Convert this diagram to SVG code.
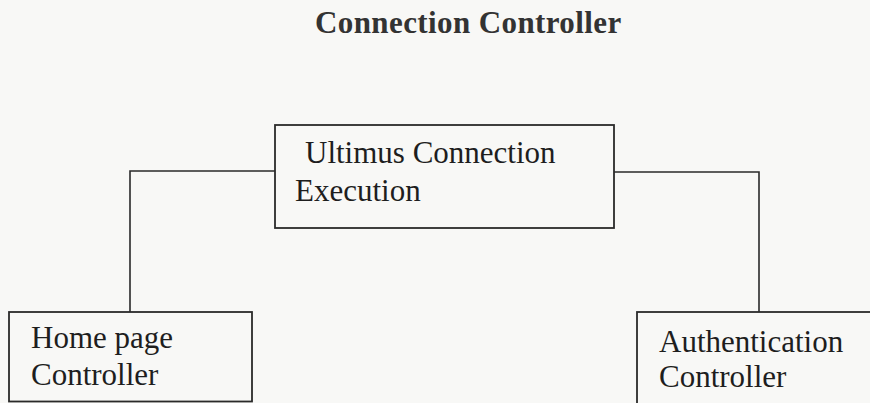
<svg xmlns="http://www.w3.org/2000/svg" width="870" height="403" viewBox="0 0 870 403">
<style>
.box{fill:none;stroke:#2a2a2a;stroke-width:1.8}
.wire{fill:none;stroke:#2a2a2a;stroke-width:1.6}
text{font-family:"Liberation Serif","Times New Roman",serif;font-size:31px;fill:#1e1e1e}
.title{font-weight:bold;font-size:31px;fill:#333;letter-spacing:0.4px}
</style>
<rect width="870" height="403" fill="#f8f8f6"/>
<text class="title" x="315" y="33">Connection Controller</text>
<g id="connectors">
<polyline class="wire" points="275,171 130,171 130,312"/>
<polyline class="wire" points="614,172 759,172 759,312"/>
</g>
<g id="ultimus">
<rect class="box" x="275" y="125" width="339" height="103"/>
<text x="305" y="163">Ultimus Connection</text>
<text x="295" y="201">Execution</text>
</g>
<g id="home">
<rect class="box" x="9" y="312" width="243" height="89.5"/>
<text x="31" y="348">Home page</text>
<text x="31" y="385">Controller</text>
</g>
<g id="auth">
<rect class="box" x="637" y="312" width="240" height="100"/>
<text x="659" y="352">Authentication</text>
<text x="659" y="387">Controller</text>
</g>
</svg>
